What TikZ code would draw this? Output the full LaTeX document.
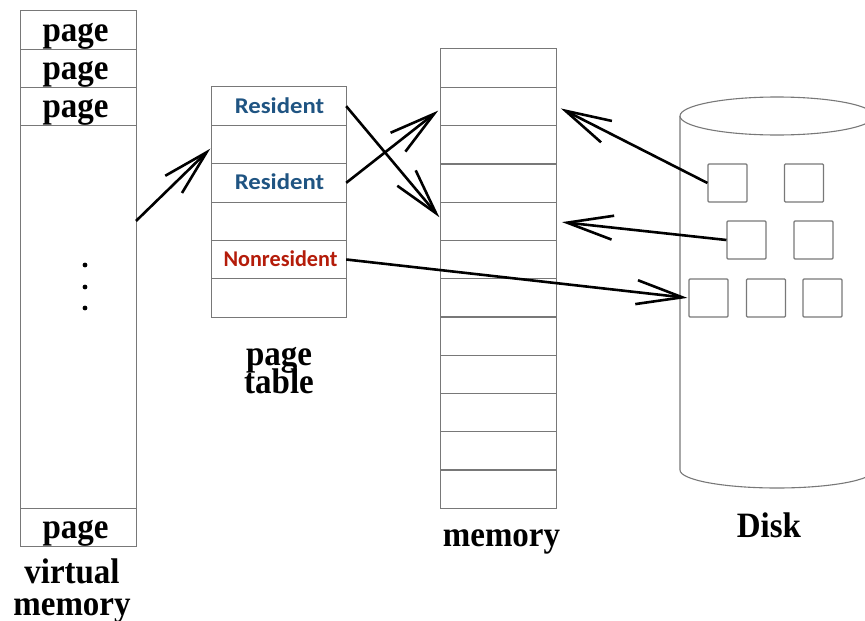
\documentclass[tikz,border=0pt]{standalone}
\usepackage{graphicx}
\usepackage{fontspec}
\setmainfont{Liberation Serif}
\newfontfamily\calfont{Carlito}
\usetikzlibrary{arrows.meta}
\definecolor{resblue}{RGB}{31,84,130}
\definecolor{nonred}{RGB}{180,28,10}
\definecolor{boxgray}{RGB}{120,120,120}
\newcommand{\tallt}[1]{\scalebox{1}[1.08]{#1}}
\newcommand{\widet}[2][1.1]{\scalebox{#1}[1]{#2}}
\tikzset{
  cell/.style={inner sep=0pt, minimum width=#1},
  grid/.style={draw=boxgray, line width=1.1pt},
  big/.style={font=\fontsize{33}{36}\selectfont\bfseries, inner sep=0pt, anchor=base},
  ptxt/.style={font=\calfont\fontsize{22.5}{24}\selectfont\bfseries, inner sep=0pt, anchor=base},
  dsq/.style={draw=boxgray, line width=1.1pt, inner sep=0pt, minimum width=39pt, minimum height=38pt, rounded corners=1pt},
  arr/.style={line width=2.6pt, -{Straight Barb[length=46pt, width=24pt]}, shorten >=1pt}
}
\begin{document}
\begin{tikzpicture}[x=1pt, y=-1pt]
\useasboundingbox (0,0) rectangle (865,621);
% virtual memory
\node[cell=115pt, minimum height=38pt] (vm1) at (78.5,30) {};
\node[cell=115pt, minimum height=38pt] (vm2) at (78.5,68) {};
\node[cell=115pt, minimum height=38pt] (vm3) at (78.5,106) {};
\node[cell=115pt, minimum height=383pt] (vmmid) at (78.5,316.5) {};
\node[cell=115pt, minimum height=38pt] (vm4) at (78.5,527) {};
\draw[grid] (vm1.north west) rectangle (vm4.south east);
\foreach \n in {vm1,vm2,vm3,vmmid} \draw[grid] (\n.south west) -- (\n.south east);
\node[big] (vmt1) at (75.5,41) {\tallt{page}};
\node[big] (vmt2) at (75.5,79) {\tallt{page}};
\node[big] (vmt3) at (75.5,117) {\tallt{page}};
\node[big] (vmt4) at (75.5,538) {\tallt{page}};
\fill (85,265) circle (2.4pt) (85,287) circle (2.4pt) (85,308) circle (2.4pt);
\node[big] (vmlbl1) at (72,583) {\tallt{virtual}};
\node[big] (vmlbl2) at (72,615) {\tallt{memory}};
% page table
\foreach \i in {1,...,6} {
  \node[cell=134pt, minimum height=38.33pt] (pt\i) at (279,{87+38.33*(\i-0.5)}) {};
}
\draw[grid] (pt1.north west) rectangle (pt6.south east);
\foreach \i in {1,...,5} \draw[grid] (pt\i.south west) -- (pt\i.south east);
\node[ptxt, text=resblue] (r1) at (279.5,113.3) {\widet{Resident}};
\node[ptxt, text=resblue] (r3) at (279.5,189.5) {\widet{Resident}};
\node[ptxt, text=nonred] (r5) at (280.5,266) {\widet[0.985]{Nonresident}};
\node[big] (ptlbl1) at (279,365) {\tallt{page}};
\node[big] (ptlbl2) at (279,393) {\tallt{table}};
% memory
\foreach \i in {1,...,12} {
  \node[cell=115pt, minimum height=38.25pt] (mem\i) at (498.5,{49+38.25*(\i-0.5)}) {};
}
\draw[grid] (mem1.north west) rectangle (mem12.south east);
\foreach \i in {1,...,11} \draw[grid] (mem\i.south west) -- (mem\i.south east);
\node[big] (memlbl) at (501.5,546.5) {\tallt{memory}};
% disk
\draw[grid] (680,116) -- (680,470) arc[start angle=180, end angle=0, x radius=97, y radius=18] -- (874,116);
\draw[grid, fill=white] (777,116) ellipse [x radius=97, y radius=19];
\node[dsq] (d1) at (727.5,183) {};
\node[dsq] (d2) at (804,183) {};
\node[dsq] (d3) at (746.5,240) {};
\node[dsq] (d4) at (813.5,240) {};
\node[dsq] (d5) at (708.5,298) {};
\node[dsq] (d6) at (766,298) {};
\node[dsq] (d7) at (822.5,298) {};
\node[big] (disklbl) at (769,537.5) {\tallt{Disk}};
% arrows
\coordinate (a1s) at (136,221);
\coordinate (a1e) at (211,148);
\draw[arr] (a1s) -- (a1e);
\draw[arr] (pt1.east) -- (440,218);
\draw[arr] (pt3.east) -- (439,110);
\draw[arr] (d1.west) -- (560,108);
\draw[arr] (d3.west) -- (561,222);
\draw[arr] (pt5.east) -- (d5.west);
\end{tikzpicture}
\end{document}
